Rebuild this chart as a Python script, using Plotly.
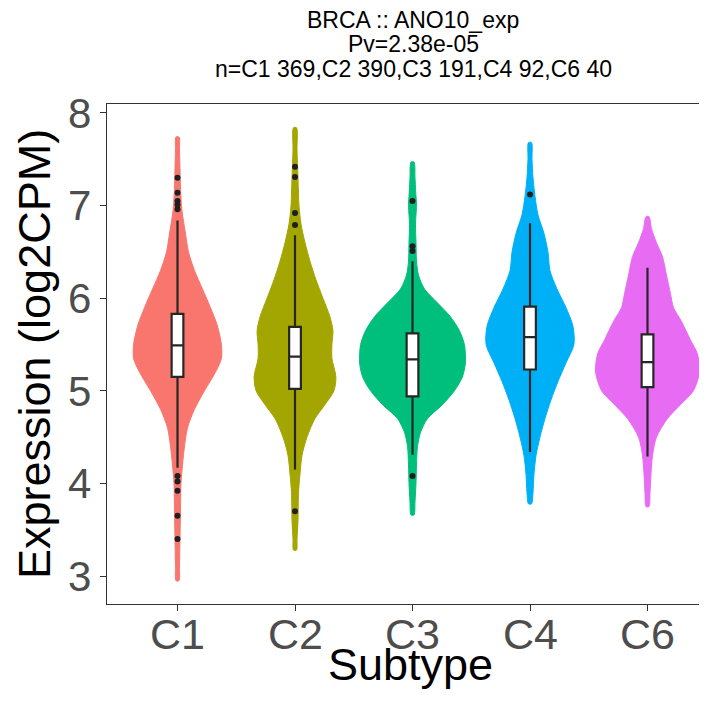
import plotly.graph_objects as go

categories = ["C1", "C2", "C3", "C4", "C6"]
tick_labels = ["C1", "C2", "C3", "C4", "C6"]
fill_colors = ["#F8766D", "#A3A500", "#00BF7D", "#00B0F6", "#E76BF3"]

# Violin outlines: expression value and density (half-width, arbitrary units)
c1_y = [2.95, 3.1, 3.4, 3.7, 4.0, 4.2, 4.4, 4.6, 4.8, 5.0, 5.2, 5.35, 5.5, 5.7, 5.9, 6.1, 6.3, 6.5, 6.7, 6.9, 7.0, 7.2, 7.4, 7.6, 7.74]
c1_d = [1.5, 2, 2.5, 3, 3.5, 5, 7, 10, 17, 27, 38, 44, 44, 40, 33, 25, 17, 11, 8, 5, 4, 3, 2.5, 2, 1.5]

c2_y = [3.28, 3.4, 3.6, 3.9, 4.1, 4.3, 4.5, 4.7, 4.85, 5.0, 5.15, 5.35, 5.5, 5.65, 5.8, 6.0, 6.2, 6.4, 6.6, 6.8, 7.0, 7.3, 7.6, 7.84]
c2_d = [1.5, 2, 3, 3.5, 5, 7, 12, 20, 30, 39, 41, 37, 37, 38, 35, 28, 21, 15, 10, 6, 4, 3, 2, 1.5]

c3_y = [3.66, 3.8, 4.0, 4.2, 4.4, 4.55, 4.7, 4.85, 5.0, 5.15, 5.3, 5.5, 5.65, 5.8, 5.95, 6.1, 6.25, 6.4, 6.6, 6.8, 7.0, 7.1, 7.3, 7.47]
c3_d = [1.5, 2.5, 3.5, 4, 5, 8, 15, 30, 42, 50, 53, 52, 47, 38, 25, 12, 6, 4, 3.5, 3, 4, 3.5, 2.5, 1.5]

c4_y = [3.78, 3.9, 4.1, 4.3, 4.5, 4.7, 4.9, 5.1, 5.3, 5.5, 5.7, 5.9, 6.1, 6.3, 6.5, 6.7, 6.9, 7.1, 7.3, 7.5, 7.68]
c4_d = [1.5, 3, 4, 6, 10, 15, 21, 28, 36, 44, 43, 36, 27, 20, 18, 14, 8, 5, 3, 2, 1.5]

c6_y = [3.75, 3.9, 4.1, 4.3, 4.5, 4.7, 4.85, 5.0, 5.2, 5.4, 5.55, 5.75, 5.9, 6.05, 6.25, 6.45, 6.6, 6.75, 6.88]
c6_d = [1.5, 2.5, 3.5, 5, 9, 20, 33, 46, 52, 50, 43, 34, 26, 23, 19, 15, 9, 4, 1.5]

violin_y = [c1_y, c2_y, c3_y, c4_y, c6_y]
violin_d = [c1_d, c2_d, c3_d, c4_d, c6_d]

# Box-plot statistics
q1 = [5.15, 5.02, 4.94, 5.23, 5.04]
median = [5.49, 5.37, 5.34, 5.58, 5.31]
q3 = [5.83, 5.69, 5.62, 5.91, 5.61]
lower_whisker = [4.17, 4.15, 4.31, 4.34, 4.29]
upper_whisker = [6.84, 6.68, 6.40, 6.81, 6.33]

# Outliers
c1_out = [7.30, 7.14, 7.05, 7.01, 6.96, 4.08, 4.02, 3.92, 3.65, 3.40]
c2_out = [7.42, 7.31, 6.92, 6.79, 3.70]
c3_out = [7.05, 6.56, 6.51, 4.08]
c4_out = [7.12]
c6_out = []
outliers = [c1_out, c2_out, c3_out, c4_out, c6_out]

title_lines = ["BRCA :: ANO10_exp", "Pv=2.38e-05", "n=C1 369,C2 390,C3 191,C4 92,C6 40"]

FONT = "Liberation Sans, Arial, sans-serif"
MAX_D = 53.0
HALF = 0.45
X_RANGE = [0.4, 0.4 + 600 / 117.5]
Y_RANGE = [2.698, 8.097]

# page body has an 8px default margin; work in figure coordinates
W, H = 699, 704
plot_left, plot_top, plot_bottom = 99, 96, 596
ph = plot_bottom - plot_top
pw = W - plot_left

fig = go.Figure()

for i, (ys, ds, col) in enumerate(zip(violin_y, violin_d, fill_colors)):
    pos = i + 1
    xs_r = [pos + d / MAX_D * HALF for d in ds]
    xs_l = [pos - d / MAX_D * HALF for d in ds]
    x_poly = xs_r + xs_l[::-1] + [xs_r[0]]
    y_poly = ys + ys[::-1] + [ys[0]]
    fig.add_trace(go.Scatter(
        x=x_poly, y=y_poly, mode="lines", fill="toself",
        fillcolor=col, line=dict(color=col, width=1, shape="spline", smoothing=0.8),
        hoverinfo="skip", showlegend=False))

for i in range(len(categories)):
    fig.add_trace(go.Box(
        x=[i + 1], q1=[q1[i]], median=[median[i]], q3=[q3[i]],
        lowerfence=[lower_whisker[i]], upperfence=[upper_whisker[i]],
        boxpoints=False, width=0.1, whiskerwidth=0,
        fillcolor="white", line=dict(color="#262626", width=2.2),
        xaxis="x2", yaxis="y2", showlegend=False))

for i, outs in enumerate(outliers):
    if outs:
        fig.add_trace(go.Scatter(
            x=[i + 1] * len(outs), y=outs, mode="markers",
            marker=dict(color="#1f1f1f", size=6),
            xaxis="x2", yaxis="y2", showlegend=False))

annotations = []
title_y_px = [20, 44, 69]
for line, ypx in zip(title_lines, title_y_px):
    annotations.append(dict(
        text=line, xref="paper", yref="paper",
        x=(413 - 8 - plot_left) / pw, y=(plot_bottom - (ypx - 8)) / ph,
        xanchor="center", yanchor="middle",
        showarrow=False, font=dict(family=FONT, size=23, color="#000000")))

# x tick labels (placed as ggplot does, close under the ticks)
for i, lab in enumerate(tick_labels):
    annotations.append(dict(
        text=lab, xref="x", yref="paper",
        x=i + 1, y=(plot_bottom - (634 - 8)) / ph,
        xanchor="center", yanchor="middle",
        showarrow=False, font=dict(family=FONT, size=43, color="#4D4D4D")))

annotations.append(dict(
    text="Expression (log2CPM)", xref="paper", yref="paper",
    x=(34 - 8 - plot_left) / pw, y=0.5, xanchor="center", yanchor="middle", textangle=-90,
    showarrow=False, font=dict(family=FONT, size=45, color="#000000")))
annotations.append(dict(
    text="Subtype", xref="paper", yref="paper",
    x=(410 - 8 - plot_left) / pw, y=(plot_bottom - (664 - 8)) / ph,
    xanchor="center", yanchor="middle",
    showarrow=False, font=dict(family=FONT, size=45, color="#000000")))

axis_common = dict(showgrid=False, zeroline=False)

fig.update_layout(
    width=W, height=H,
    margin=dict(l=plot_left, r=0, t=plot_top, b=H - plot_bottom, pad=0),
    paper_bgcolor="white", plot_bgcolor="white",
    showlegend=False,
    annotations=annotations,
    xaxis=dict(
        range=X_RANGE, tickmode="array",
        tickvals=[1, 2, 3, 4, 5], ticktext=tick_labels, showticklabels=False,
        showline=True, linecolor="#333333", linewidth=1.3, mirror=True,
        ticks="outside", ticklen=6, tickcolor="#333333", tickwidth=1.3,
        **axis_common),
    yaxis=dict(
        range=Y_RANGE, tickmode="array", tickvals=[3, 4, 5, 6, 7, 8],
        showline=True, linecolor="#333333", linewidth=1.3, mirror=False,
        ticks="outside", ticklen=6, tickcolor="#333333", tickwidth=1.3,
        tickfont=dict(family=FONT, size=42, color="#4D4D4D"), **axis_common),
    xaxis2=dict(range=X_RANGE, overlaying="x", anchor="y2", visible=False, **axis_common),
    yaxis2=dict(range=Y_RANGE, overlaying="y", anchor="x2", visible=False, **axis_common),
)

fig.write_html("out.html")
